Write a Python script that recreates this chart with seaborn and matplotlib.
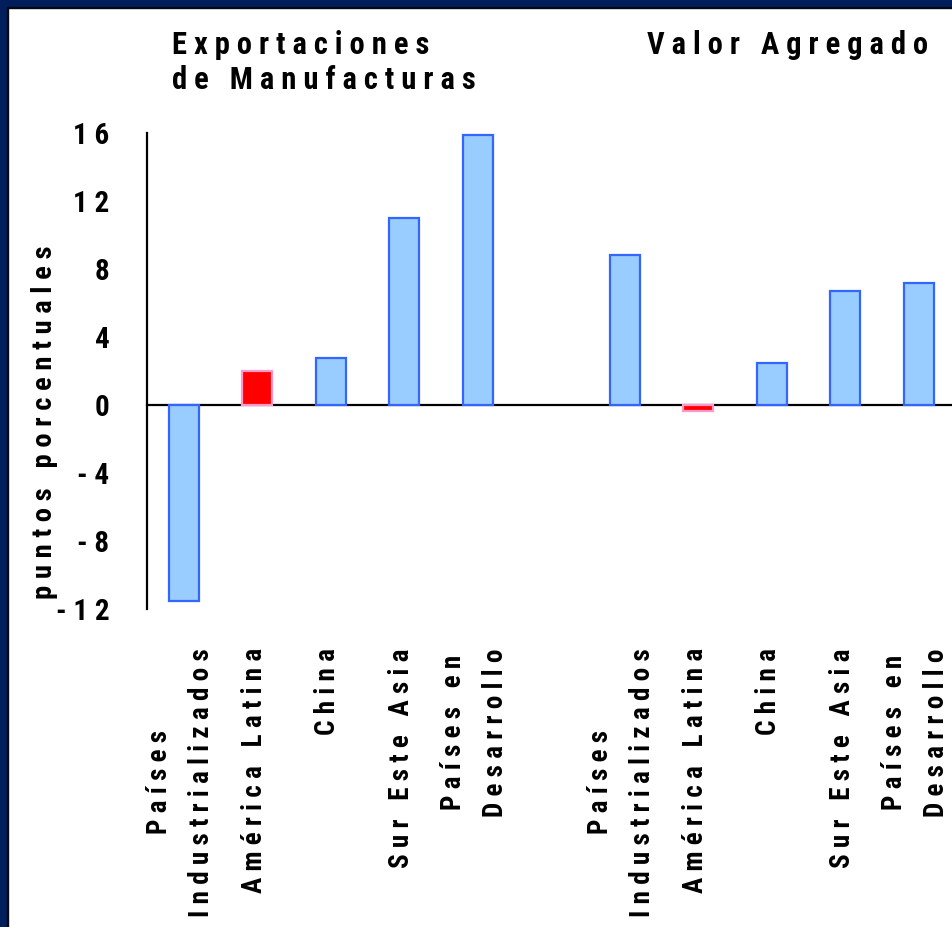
import pandas as pd
import matplotlib.pyplot as plt
import matplotlib.transforms as mtransforms
from matplotlib.patches import Rectangle
import seaborn as sns

# ── Data ─────────────────────────────────────────
categorias = ["Países\nIndustrializados", "América Latina", "China",
              "Sur Este Asia", "Países en\nDesarrollo"]
exportaciones = [-11.5, 2.0, 2.75, 11.0, 15.9]
valor_agregado = [8.8, -0.35, 2.5, 6.7, 7.2]
grupos = ["Exportaciones\nde Manufacturas", "Valor Agregado"]
y_ticks = [-12, -8, -4, 0, 4, 8, 12, 16]
y_label = "puntos porcentuales"


def espaciar(s):
    # letter spacing like the original slide
    return "\n".join(" ".join(linea) for linea in s.split("\n"))


rows = []
for g, vals in enumerate([exportaciones, valor_agregado]):
    for i, (c, v) in enumerate(zip(categorias, vals)):
        rows.append({"pos": g * 6 + i, "cat": c, "valor": v,
                     "tipo": "AL" if c == "América Latina" else "otro"})
df = pd.DataFrame(rows)

sns.set_style("white")
FONT = ["Roboto Condensed", "Archivo Narrow", "PT Sans Narrow",
        "Barlow Condensed", "DejaVu Sans"]
plt.rcParams["font.family"] = FONT
plt.rcParams["font.weight"] = "bold"

fig = plt.figure(figsize=(9.52, 9.27), dpi=100)
fig.patch.set_facecolor("white")
W, H = 952, 927

# dark blue slide frame (top and left only, picture is cropped)
fig.patches.append(Rectangle((0, 1 - 7 / H), 1, 7 / H, transform=fig.transFigure,
                             color="#001E5B", zorder=0))
fig.patches.append(Rectangle((0, 0), 7 / W, 1, transform=fig.transFigure,
                             color="#001E5B", zorder=0))
fig.patches.append(Rectangle((7 / W, 0), 1.2 / W, 1 - 7 / H, transform=fig.transFigure,
                             color="#000814", zorder=0))
fig.patches.append(Rectangle((7 / W, 1 - 8.2 / H), 1, 1.2 / H, transform=fig.transFigure,
                             color="#000814", zorder=0))

ax = fig.add_axes([147 / W, (H - 609) / H, 808.5 / W, 476 / H])
ax.set_facecolor("none")

sns.barplot(data=df, x="pos", y="valor", hue="tipo", native_scale=True,
            palette={"otro": "#99CCFF", "AL": "#FF0000"}, dodge=False,
            width=0.41, legend=False, ax=ax, zorder=3, saturation=1)
for p in ax.patches:
    fc = p.get_facecolor()
    p.set_edgecolor("#FF99CC" if fc[1] < 0.5 else "#3366FF")
    p.set_linewidth(1.6)

ax.set_xlim(-0.5, 10.5)
ax.set_ylim(-12, 16)
ax.set_xlabel("")
ax.set_ylabel("")

for s in ["top", "right"]:
    ax.spines[s].set_visible(False)
ax.spines["bottom"].set_position(("data", 0))
for s in ["left", "bottom"]:
    ax.spines[s].set_linewidth(1.6)
    ax.spines[s].set_color("black")

ax.set_yticks(y_ticks)
ax.set_yticklabels([espaciar(str(t)) for t in y_ticks], fontsize=21)
ax.tick_params(axis="y", direction="out", length=13, width=1.6, pad=14,
               colors="black")

# boundary ticks on the zero line, labels placed by hand
ax.set_xticks([i - 0.5 for i in range(12)])
ax.set_xticklabels([])
ax.tick_params(axis="x", direction="out", length=12, width=1.6, colors="black")

trans = mtransforms.blended_transform_factory(ax.transData, ax.transAxes)
for _, r in df.iterrows():
    ax.text(r["pos"] - 0.04, -0.082, espaciar(r["cat"]), transform=trans,
            rotation=90, ha="center", va="top", multialignment="center",
            fontsize=19.5, linespacing=1.7, color="black")

fig.text(45 / W, 1 - 422 / H, espaciar(y_label), rotation=90, fontsize=20.5,
         ha="center", va="center", color="black")
fig.text(172 / W, 1 - 30 / H, espaciar(grupos[0]), fontsize=22, va="top",
         ha="left", linespacing=1.22, color="black")
fig.text(647 / W, 1 - 30 / H, espaciar(grupos[1]), fontsize=22, va="top",
         ha="left", color="black")

plt.savefig("out.png", dpi=100)
